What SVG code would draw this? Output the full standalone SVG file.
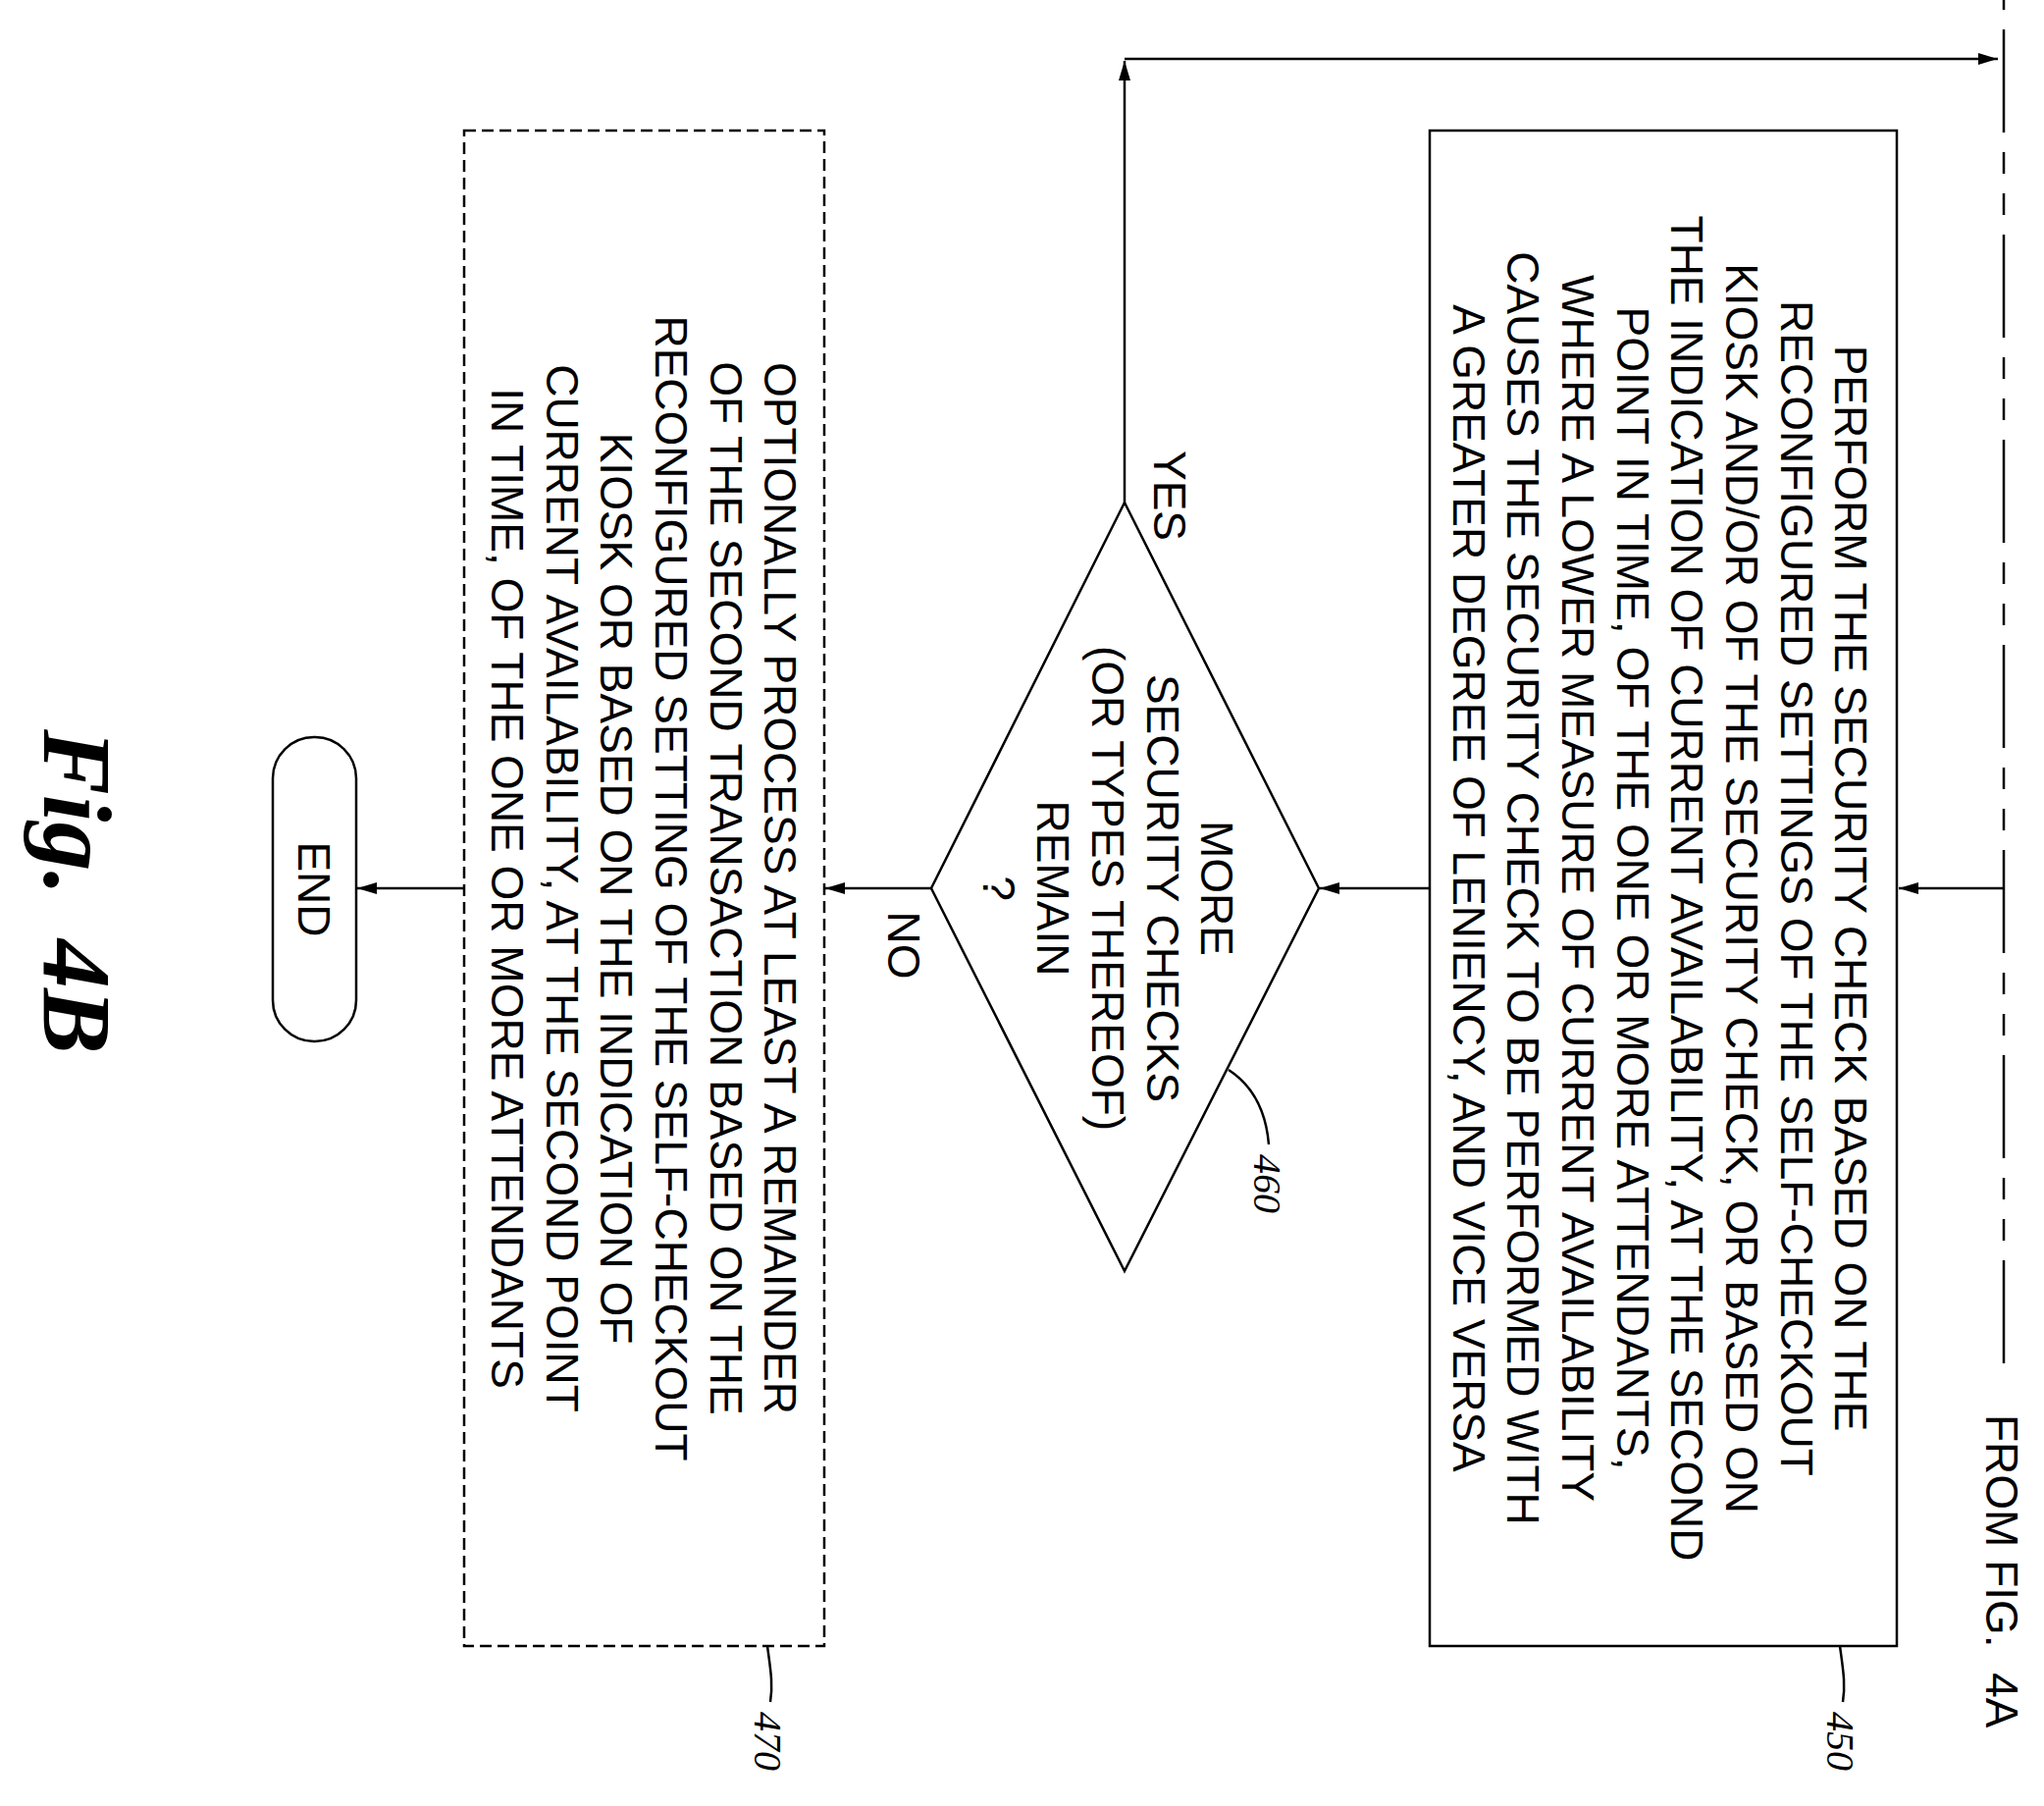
<svg xmlns="http://www.w3.org/2000/svg" width="2083" height="1840" viewBox="0 0 2083 1840">
<style>
.s{fill:none;stroke:#000;stroke-width:2.5}
.d{fill:none;stroke:#000;stroke-width:2.5;stroke-dasharray:12 6}
.t{font-family:"Liberation Sans",Arial,sans-serif;font-size:46px;fill:#000;text-anchor:middle}
.r{font-family:"Liberation Serif","Times New Roman",serif;font-style:italic;font-size:40px;fill:#000}
.c{fill:none;stroke:#000;stroke-width:2.5;marker-end:url(#a)}
</style>
<defs>
<marker id="a" markerWidth="22" markerHeight="14" refX="20" refY="7" orient="auto" markerUnits="userSpaceOnUse">
<path d="M0,1 L20,7 L0,13 Z" fill="#000"/>
</marker>
</defs>
<rect width="2083" height="1840" fill="#fff"/>
<g id="connectors">
<line x1="2042" y1="0" x2="2042" y2="1405" class="s" stroke-dasharray="105 20 22 20 22 20" stroke-dashoffset="179"/>
<line x1="2042" y1="905" x2="1935" y2="905" class="c"/>
<line x1="1457" y1="905" x2="1345" y2="905" class="c"/>
<line x1="949" y1="905" x2="841" y2="905" class="c"/>
<line x1="473" y1="905" x2="364" y2="905" class="c"/>
<line x1="1146" y1="512" x2="1146" y2="62" class="c"/>
<line x1="1146" y1="60" x2="2036" y2="60" class="c"/>
<text class="t" transform="translate(1176,505) rotate(90)">YES</text>
<text class="t" transform="translate(905,963) rotate(90)">NO</text>
<text class="t" xml:space="preserve" text-anchor="start" style="text-anchor:start" transform="translate(2024,1441) rotate(90)">FROM FIG.  4A</text>
</g>
<g id="n450">
<rect x="1457" y="133" width="476" height="1544" class="s"/>
<g class="t">
<text transform="translate(1870,905) rotate(90)">PERFORM THE SECURITY CHECK BASED ON THE</text>
<text transform="translate(1815,905) rotate(90)">RECONFIGURED SETTINGS OF THE SELF-CHECKOUT</text>
<text transform="translate(1759,905) rotate(90)">KIOSK AND/OR OF THE SECURITY CHECK, OR BASED ON</text>
<text transform="translate(1703,905) rotate(90)">THE INDICATION OF CURRENT AVAILABILITY, AT THE SECOND</text>
<text transform="translate(1648,905) rotate(90)">POINT IN TIME, OF THE ONE OR MORE ATTENDANTS,</text>
<text transform="translate(1592,905) rotate(90)">WHERE A LOWER MEASURE OF CURRENT AVAILABILITY</text>
<text transform="translate(1536,905) rotate(90)">CAUSES THE SECURITY CHECK TO BE PERFORMED WITH</text>
<text transform="translate(1481,905) rotate(90)">A GREATER DEGREE OF LENIENCY, AND VICE VERSA</text>
</g>
<path d="M1875,1677 C1878,1700 1881,1715 1878,1734" class="s"/>
<text class="r" transform="translate(1862,1744) rotate(90)">450</text>
</g>
<g id="n460">
<polygon points="1344,905 1146,512 949,905 1146,1295" class="s"/>
<g class="t">
<text transform="translate(1224,905) rotate(90)">MORE</text>
<text transform="translate(1169,905) rotate(90)">SECURITY CHECKS</text>
<text transform="translate(1113,905) rotate(90)">(OR TYPES THEREOF)</text>
<text transform="translate(1057,905) rotate(90)">REMAIN</text>
<text transform="translate(1002,905) rotate(90)">?</text>
</g>
<path d="M1252,1090 C1275,1105 1290,1130 1293,1166" class="s"/>
<text class="r" transform="translate(1278,1176) rotate(90)">460</text>
</g>
<g id="n470">
<rect x="473" y="133" width="367" height="1544" class="d"/>
<g class="t">
<text transform="translate(779,905) rotate(90)">OPTIONALLY PROCESS AT LEAST A REMAINDER</text>
<text transform="translate(724,905) rotate(90)">OF THE SECOND TRANSACTION BASED ON THE</text>
<text transform="translate(668,905) rotate(90)">RECONFIGURED SETTING OF THE SELF-CHECKOUT</text>
<text transform="translate(612,905) rotate(90)">KIOSK OR BASED ON THE INDICATION OF</text>
<text transform="translate(557,905) rotate(90)">CURRENT AVAILABILITY, AT THE SECOND POINT</text>
<text transform="translate(501,905) rotate(90)">IN TIME, OF THE ONE OR MORE ATTENDANTS</text>
</g>
<path d="M782,1677 C785,1700 788,1715 785,1734" class="s"/>
<text class="r" transform="translate(769,1744) rotate(90)">470</text>
</g>
<g id="end">
<rect x="278" y="751" width="85" height="310" rx="42" class="s"/>
<text class="t" transform="translate(304,906) rotate(90)">END</text>
</g>
<g id="caption" font-family="'Liberation Serif','Times New Roman',serif" font-style="italic" font-weight="bold" font-size="100">
<text transform="translate(45,743) rotate(90)">Fig.</text>
<text transform="translate(45,957) rotate(90)">4B</text>
</g>
</svg>
